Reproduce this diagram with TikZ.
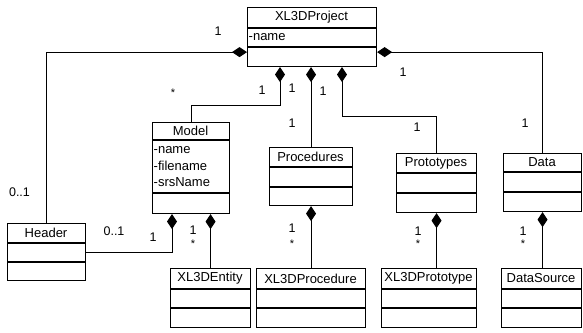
\documentclass[tikz,border=0pt]{standalone}
\usepackage{fontspec}
\setmainfont{Liberation Sans}
\usetikzlibrary{arrows.meta}
\tikzset{
  classbox/.style={draw, line width=1.1pt, inner sep=0pt, fill=white},
  rowline/.style={line width=1.1pt},
  titletext/.style={inner sep=0pt, font=\fontsize{13}{15}\selectfont},
  attrtext/.style={inner sep=0pt, anchor=west, align=left, font=\fontsize{13}{16.5}\selectfont},
  mult/.style={inner sep=0pt, font=\fontsize{12.5}{14}\selectfont},
  star/.style={inner sep=0pt, font=\fontsize{11}{12}\selectfont},
  comp/.style={draw, line width=1pt, {Diamond[length=15pt,width=10pt]}-},
}
\newcommand{\umlbox}[8]{%
  \node[classbox, minimum width={#3-#2}, minimum height={#7-#4}, anchor=north west] (#1) at (#2,#4) {};
  \draw[rowline] (#2,#5) -- (#3,#5);
  \draw[rowline] (#2,#6) -- (#3,#6);
  \node[titletext] (#1-title) at ({(#2+#3)/2},{(#4+#5)/2}) {#8};
}
\begin{document}
\begin{tikzpicture}[x=1pt,y=-1pt]
\useasboundingbox (0,0) rectangle (583,332);
% classes
\umlbox{proj}{247}{376}{7}{28}{47}{66}{XL3DProject}
\node[attrtext] (proj-attr) at (248.5,37.5) {-name};
\umlbox{model}{152}{229}{122}{140}{193}{213}{Model}
\node[attrtext, anchor=north west] (model-attr) at (153.5,146.5) {-name\\-filename\\-srsName};
\umlbox{header}{7}{85}{223}{243}{262}{280}{Header}
\umlbox{procs}{269}{352}{147}{167}{187}{205}{Procedures}
\umlbox{protos}{396}{476}{153}{173}{193}{212}{Prototypes}
\umlbox{data}{503}{581}{153}{172}{192}{211}{Data}
\umlbox{entity}{170}{250}{268}{289}{308}{327}{XL3DEntity}
\umlbox{xproc}{256}{365}{268}{289}{308}{327}{XL3DProcedure}
\umlbox{xproto}{381}{476}{268}{289}{308}{327}{XL3DPrototype}
\umlbox{dsrc}{501}{581}{268}{289}{308}{327}{DataSource}
% connectors
\draw[comp] ([yshift=15pt]proj.south west) -| (header.north);
\draw[comp] ([xshift=33pt]proj.south west) -- ++(0,38) -| (model.north);
\draw[comp] (procs.north |- proj.south) -- (procs.north);
\draw[comp] ([xshift=95pt]proj.south west) -- ++(0,49) -| (protos.north);
\draw[comp] ([yshift=15pt]proj.south east) -| (data.north);
\draw[comp] ([xshift=20pt]model.south west) |- (header.east);
\draw[comp] (entity.north |- model.south) -- (entity.north);
\draw[comp] (xproc.north |- procs.south) -- (xproc.north);
\draw[comp] (protos.south) -- (protos.south |- xproto.north);
\draw[comp] (data.south) -- (data.south |- dsrc.north);
% multiplicities
\node[mult] (m1) at (218,31) {1};
\node[star] (m2) at (173,93) {*};
\node[mult] (m3) at (262,90) {1};
\node[mult] (m4) at (292,88) {1};
\node[mult] (m5) at (323,91) {1};
\node[mult] (m6) at (292,123) {1};
\node[mult] (m7) at (417,127) {1};
\node[mult] (m8) at (403,72) {1};
\node[mult] (m9) at (525,123) {1};
\node[mult] (m10) at (19.5,192) {0..1};
\node[mult] (m11) at (114,231) {0..1};
\node[mult] (m12) at (153,237) {1};
\node[mult] (m13) at (193,230) {1};
\node[star] (m14) at (193,244) {*};
\node[mult] (m15) at (292,228) {1};
\node[star] (m16) at (292,244) {*};
\node[mult] (m17) at (418,231) {1};
\node[star] (m18) at (418,244) {*};
\node[mult] (m19) at (523,231) {1};
\node[star] (m20) at (523,244) {*};
\end{tikzpicture}
\end{document}
